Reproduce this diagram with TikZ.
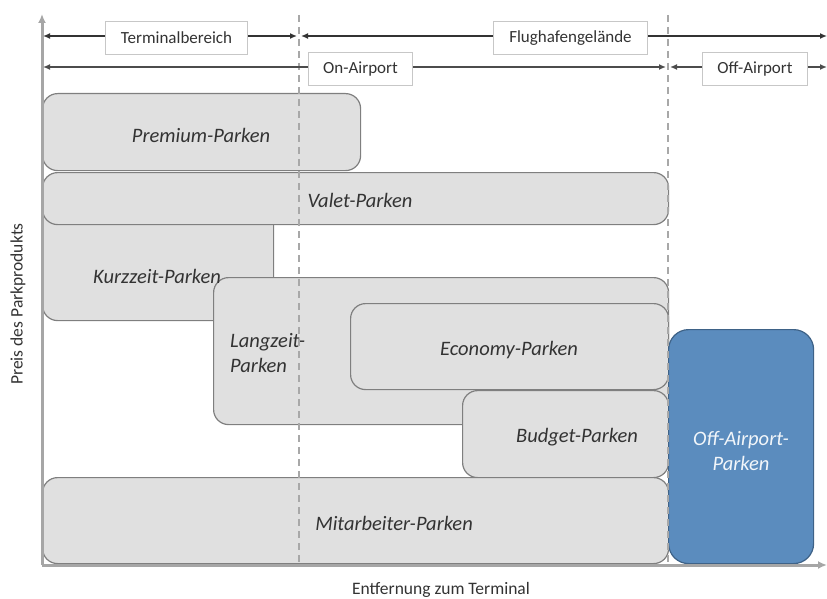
\documentclass[tikz,border=0pt]{standalone}
\usepackage{fontspec}
\setmainfont{Carlito}
\usetikzlibrary{arrows.meta}
\definecolor{boxfill}{HTML}{E0E0E0}
\definecolor{boxline}{HTML}{7F7F7F}
\definecolor{bluefill}{HTML}{5B8CBE}
\definecolor{blueline}{HTML}{3E6287}
\definecolor{axisgray}{HTML}{A6A6A6}
\definecolor{dashgray}{HTML}{A8A8A8}
\definecolor{txtgray}{HTML}{333333}
\tikzset{
  pbox/.style={draw=boxline, fill=boxfill, line width=1.2pt, rounded corners=15pt, anchor=north west, inner sep=0pt},
  bluebox/.style={draw=blueline, fill=bluefill, line width=1.2pt, rounded corners=20pt, anchor=north west, inner sep=0pt},
  ptext/.style={font=\fontsize{20.5}{25}\selectfont\itshape, text=txtgray, inner sep=0pt},
  stext/.style={font=\fontsize{17.5}{21}\selectfont, text=txtgray, inner sep=0pt},
  tag/.style={draw=black!22, fill=white, line width=1pt, font=\fontsize{17}{20}\selectfont, text=txtgray, minimum height=33pt, inner sep=0pt, anchor=north west},
  rangearrow/.style={{Latex[length=7pt,width=6pt]}-{Latex[length=7pt,width=6pt]}, line width=1.3pt, draw=black!80},
  axisline/.style={-{Latex[length=9pt,width=8pt]}, line width=3pt, draw=axisgray},
  divider/.style={draw=dashgray, line width=1.8pt, dash pattern=on 7pt off 5pt}
}
\begin{document}
\begin{tikzpicture}[x=1pt,y=-1pt]
\useasboundingbox (0,0) rectangle (827,599);
% boxes
\node[pbox, minimum width=318pt, minimum height=77pt] (premium) at (42,93) {};
\node[ptext] (premiumt) at (201,135) {Premium-Parken};
\node[pbox, minimum width=231pt, minimum height=120pt] (kurz) at (42,200) {};
\node[pbox, minimum width=626pt, minimum height=52pt] (valet) at (42,172) {};
\node[ptext] (valett) at (360,200) {Valet-Parken};
\node[pbox, minimum width=455pt, minimum height=147pt] (lang) at (213,277) {};
\node[ptext] (kurzt) at (157,276) {Kurzzeit-Parken};
\node[ptext, align=left, anchor=west] (langt) at (230,353) {Langzeit-\\Parken};
\node[pbox, minimum width=318pt, minimum height=86pt] (eco) at (350,303) {};
\node[ptext] (ecot) at (509,350) {Economy-Parken};
\node[pbox, minimum width=206pt, minimum height=87pt] (budget) at (462,390) {};
\node[ptext] (budgett) at (577,437) {Budget-Parken};
\node[pbox, minimum width=626pt, minimum height=86pt] (mitarb) at (42,477) {};
\node[ptext] (mitarbt) at (394,523) {Mitarbeiter-Parken};
\node[bluebox, minimum width=145pt, minimum height=234pt] (off) at (668,329) {};
\node[ptext, text=white!92!bluefill, align=center] (offt) at (741,451) {Off-Airport-\\Parken};
% dividers
\coordinate (d1t) at (299,15); \coordinate (d1b) at (299,565);
\coordinate (d2t) at (668,15); \coordinate (d2b) at (668,565);
\draw[divider] (d1t) -- (d1b);
\draw[divider] (d2t) -- (d2b);
% axes
\coordinate (origin) at (42,565);
\coordinate (ytop) at (42,14);
\coordinate (xend) at (827,565);
\draw[axisline] (origin) -- (ytop);
\draw[axisline] (origin) -- (xend);
% range arrows
\coordinate (r1a) at (43,36); \coordinate (r1b) at (297,36);
\coordinate (r1c) at (301,36); \coordinate (r1d) at (827,36);
\coordinate (r2a) at (43,67); \coordinate (r2b) at (666,67);
\coordinate (r2c) at (670,67); \coordinate (r2d) at (827,67);
\draw[rangearrow] (r1a) -- (r1b);
\draw[rangearrow] (r1c) -- (r1d);
\draw[rangearrow, line width=1.8pt, draw=black!70] (r2a) -- (r2b);
\draw[rangearrow, line width=1.8pt, draw=black!70] (r2c) -- (r2d);
\node[tag, minimum width=142pt] (tb) at (105,21) {Terminalbereich};
\node[tag, minimum width=154pt] (fg) at (493,21) {Flughafengelände};
\node[tag, minimum width=104pt] (oa) at (308,52) {On-Airport};
\node[tag, minimum width=105pt] (ofa) at (702,52) {Off-Airport};
% axis labels
\node[stext, rotate=90] (ylab) at (18,304) {Preis des Parkprodukts};
\node[stext] (xlab) at (441,590) {Entfernung zum Terminal};
\end{tikzpicture}
\end{document}
